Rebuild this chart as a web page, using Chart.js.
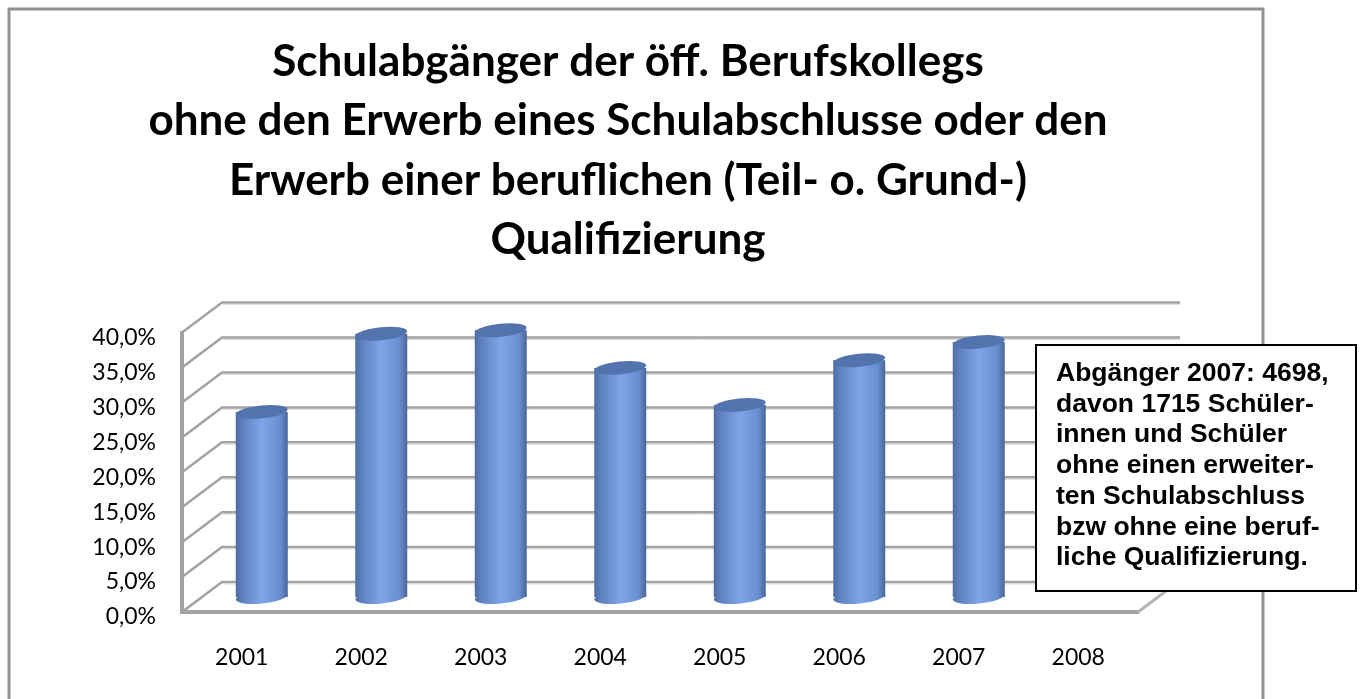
<!DOCTYPE html>
<html><head><meta charset="utf-8">
<style>html,body{margin:0;padding:0;background:#fff}#w{position:absolute;left:0;top:0;width:1363px;height:699px}</style>
<script src="https://cdn.jsdelivr.net/npm/chart.js@4"></script>
</head><body><div id="w"><canvas id="c" width="1363" height="699"></canvas></div>
<script>
const categories = ['2001','2002','2003','2004','2005','2006','2007','2008'];
const shares = [26.5,37.7,38.2,32.8,27.5,33.9,36.5,null];
const yTicks = [0,5,10,15,20,25,30,35,40];
const titleLines = ['Schulabgänger der öff. Berufskollegs','ohne den Erwerb eines Schulabschlusse oder den','Erwerb einer beruflichen (Teil- o. Grund-)','Qualifizierung'];
const noteLines = ['Abgänger 2007: 4698,','davon 1715 Schüler-','innen und Schüler','ohne einen erweiter-','ten Schulabschluss','bzw ohne eine beruf-','liche Qualifizierung.'];

const depth = {dx:40, dy:-30};
const grey = '#a3a3a3';
const catPct = 0.435;

function barGradient(context){
  const chart = context.chart, x = chart.scales.x;
  if(!x || !isFinite(x.getPixelForValue(context.dataIndex))) return '#7fa5e8';
  const cx = x.getPixelForValue(context.dataIndex);
  const half = x.width/categories.length*catPct/2;
  const g = chart.ctx.createLinearGradient(cx-half,0,cx+half,0);
  g.addColorStop(0,'#4d6ca3'); g.addColorStop(0.12,'#5e80bd'); g.addColorStop(0.5,'#7fa5e8'); g.addColorStop(0.85,'#6a8fd0'); g.addColorStop(1,'#4a6698');
  return g;
}
const hasBar = i => shares[i] !== null;

const scene = {
  id:'scene',
  beforeDraw(chart){
    const {ctx} = chart;
    ctx.save();
    ctx.fillStyle='#fff'; ctx.fillRect(0,0,1363,699);
    ctx.strokeStyle='#929292'; ctx.lineWidth=3;
    ctx.beginPath(); ctx.moveTo(9,699); ctx.lineTo(9,9); ctx.lineTo(1263,9); ctx.lineTo(1263,699); ctx.stroke();
    ctx.restore();
  },
  beforeDatasetsDraw(chart){
    const {ctx, chartArea:a, scales:{y}} = chart;
    ctx.save();
    ctx.lineJoin='miter';
    yTicks.forEach(v=>{
      const p=y.getPixelForValue(v);
      ctx.strokeStyle='#dcdcdc'; ctx.lineWidth=1;
      ctx.beginPath(); ctx.moveTo(a.left+depth.dx+1,p+depth.dy+2); ctx.lineTo(a.right+depth.dx+2,p+depth.dy+2); ctx.stroke();
      ctx.strokeStyle=grey; ctx.lineWidth=2.5;
      ctx.beginPath(); ctx.moveTo(a.left,p); ctx.lineTo(a.left+depth.dx,p+depth.dy); ctx.lineTo(a.right+depth.dx+2,p+depth.dy); ctx.stroke();
    });
    const b=y.getPixelForValue(0);
    ctx.strokeStyle='#b5b5b5'; ctx.lineWidth=3;
    ctx.beginPath(); ctx.moveTo(a.right,b); ctx.lineTo(a.right+depth.dx,b+depth.dy); ctx.stroke();
    ctx.restore();
    // bars sit halfway into the floor depth
    ctx.save();
    ctx.translate(depth.dx/2, depth.dy/2);
    chart.getDatasetMeta(0).data.forEach((bar,i)=>{
      if(!hasBar(i)) return;
      ctx.fillStyle=bar.options.backgroundColor;
      ctx.beginPath(); ctx.ellipse(bar.x,bar.base,bar.width/2,6.5,-0.1,0,Math.PI*2); ctx.fill();
    });
  },
  afterDatasetsDraw(chart){
    const {ctx} = chart;
    chart.getDatasetMeta(0).data.forEach((bar,i)=>{
      if(!hasBar(i)) return;
      ctx.fillStyle='#5273ad';
      ctx.beginPath(); ctx.ellipse(bar.x,bar.y,bar.width/2,6.5,-0.1,0,Math.PI*2); ctx.fill();
    });
    ctx.restore();
  },
  afterDraw(chart){
    const {ctx} = chart;
    ctx.save();
    ctx.fillStyle='#fff'; ctx.strokeStyle='#000'; ctx.lineWidth=2;
    ctx.fillRect(1036,345,320,246); ctx.strokeRect(1036,345,320,246);
    ctx.fillStyle='#000'; ctx.font='bold 26.5px "Liberation Sans"'; ctx.textBaseline='alphabetic'; ctx.textAlign='left';
    noteLines.forEach((t,i)=>ctx.fillText(t,1056,381+i*30.7));
    ctx.restore();
  }
};

new Chart(document.getElementById('c'),{
  type:'bar',
  data:{labels:categories,datasets:[{data:shares,backgroundColor:barGradient,borderWidth:0,barPercentage:1,categoryPercentage:catPct}]},
  plugins:[scene],
  options:{
    responsive:false,animation:false,
    clip:false,
    layout:{padding:{top:32,left:0,right:107,bottom:0}},
    plugins:{
      legend:{display:false},tooltip:{enabled:false},
      title:{display:true,text:titleLines,color:'#000',font:{family:'Lato',size:44,weight:'bold',lineHeight:1.35},padding:{top:0,bottom:63}}
    },
    scales:{
      x:{
        grid:{display:false,drawTicks:false},
        border:{color:grey,width:4},
        ticks:{color:'#000',font:{family:'Lato',size:23},padding:32,maxRotation:0},
        afterFit(s){s.height=87;}
      },
      y:{
        min:0,max:40,
        afterBuildTicks(s){s.ticks=yTicks.map(v=>({value:v}));},
        grid:{display:false,drawTicks:false},
        border:{color:grey,width:4},
        ticks:{color:'#000',font:{family:'Lato',size:23},padding:26,labelOffset:5,callback:v=>v.toFixed(1).replace('.',',')+'%'},
        afterFit(s){s.width=182;}
      },
      gutter:{
        position:'right',axis:'y',
        grid:{display:false,drawTicks:false},border:{display:false},
        ticks:{display:false},
        afterFit(s){s.width=118;}
      }
    }
  }
});
</script></body></html>
